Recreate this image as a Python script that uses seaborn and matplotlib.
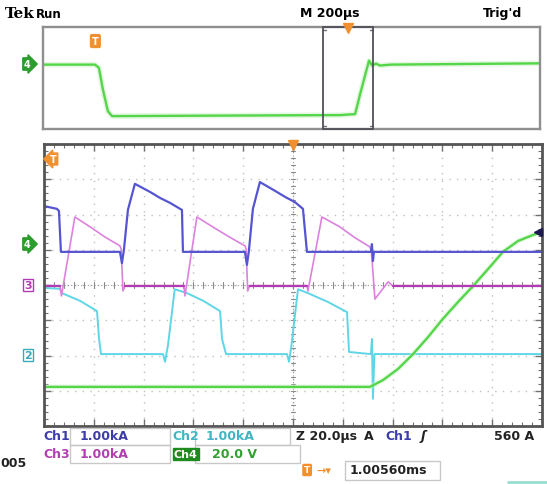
import numpy as np
import pandas as pd
import matplotlib
matplotlib.use("Agg")
import matplotlib.pyplot as plt
import seaborn as sns
from matplotlib.patches import Rectangle

W, H = 547, 485

# ---- zoomed window: time in µs (20 µs/div), level in screen divisions (0..8)
ch1_t = [0, 5.2, 6.0, 6.8, 30.5, 31.3, 32.1, 33.7, 36.5, 42.6, 46.6, 50.6, 55.4, 55.8,
         80.7, 81.5, 82.3, 83.9, 86.7, 92.8, 96.8, 100.8, 104.0, 105.6, 131.3, 131.7,
         132.1, 132.5, 200]
ch1_v = [6.24, 6.16, 6.10, 4.94, 4.94, 4.62, 5.00, 6.13, 6.87, 6.64, 6.47, 6.33, 6.13, 4.94,
         4.94, 4.57, 4.98, 6.16, 6.92, 6.67, 6.50, 6.35, 6.16, 4.94, 4.94, 5.16,
         4.68, 4.94, 4.94]

ch2_t = [0, 6.4, 7.2, 14.5, 21.3, 22.1, 22.9, 47.8, 48.6, 49.8, 52.5, 57.4, 64.0, 70.7,
         71.5, 73.1, 97.6, 98.4, 99.4, 102.0, 106.0, 114.0, 121.7, 122.5, 131.3, 131.7,
         132.1, 132.7, 200]
ch2_v = [3.92, 3.89, 3.77, 3.55, 3.26, 2.47, 2.04, 2.04, 1.82, 2.30, 3.88, 3.77, 3.55, 3.26,
         2.47, 2.04, 2.04, 1.82, 2.30, 3.88, 3.77, 3.52, 3.23, 2.10, 2.04, 2.47,
         0.77, 2.04, 2.04]

ch3_t = [0, 6.4, 7.0, 12.4, 18.5, 24.5, 30.5, 31.0, 31.7, 32.5, 56.2, 56.6, 61.4, 67.5,
         74.0, 80.7, 81.2, 81.8, 82.6, 105.6, 106.0, 111.6, 118.8, 124.9, 130.9, 131.5,
         132.9, 138.2, 140.0, 200]
ch3_v = [3.98, 3.98, 3.69, 5.93, 5.65, 5.36, 5.11, 5.02, 3.83, 3.98, 3.98, 3.69, 5.93, 5.66,
         5.38, 5.11, 5.02, 3.83, 3.98, 3.98, 3.83, 5.93, 5.65, 5.34, 5.08, 4.95,
         3.60, 4.09, 3.98, 3.98]
ch3_flat = [(0, 6.4), (32.5, 56.2), (82.6, 105.6), (140, 200)]

ch4_t = [0, 130.9, 136.1, 142.2, 148.2, 154.2, 160.2, 166.3, 172.3, 178.3, 184.3, 190.4,
         196.4, 199.2]
ch4_v = [1.11, 1.11, 1.30, 1.62, 2.04, 2.52, 3.04, 3.52, 3.97, 4.45, 4.94, 5.25,
         5.42, 5.48]

# ---- overview record: time in µs (200 µs/div), level in divisions (0..8)
ov_t = [0, 209, 225, 241, 261, 278, 700, 1195, 1256, 1276, 1300, 1312, 1324, 1340, 1356,
        1400, 2000]
ov_v = [5.05, 5.05, 4.80, 3.10, 1.40, 1.01, 1.05, 1.09, 1.17, 2.72, 4.50, 5.36, 4.98, 5.13,
        4.98, 5.05, 5.15]
zoom_center = 1227   # µs
zoom_width = 200     # µs

C1 = "#5555d2"
C2 = "#5fd6e6"
C3 = "#dc82de"
C3D = "#b23ab4"
C4 = "#55d64a"
ORANGE = "#f0902e"

sns.set_theme(style="white")
plt.rcParams["font.family"] = ["DejaVu Sans"]

fig = plt.figure(figsize=(W / 100, H / 100), dpi=100)
fig.patch.set_facecolor("white")


def fx(x):
    return x / W


def fy(y):
    return 1 - y / H


def add_ax(x0, y0, x1, y1):
    return fig.add_axes([fx(x0), fy(y1), (x1 - x0) / W, (y1 - y0) / H])


# ---------------- overview panel ----------------
ax0 = add_ax(43, 28, 540, 130)
ax0.set_xlim(0, 2000)
ax0.set_ylim(0, 8)
ov = pd.DataFrame({"t": ov_t, "v": ov_v})
sns.lineplot(data=ov, x="t", y="v", ax=ax0, color="#d2f2cc", lw=4, sort=False, alpha=0.6)
sns.lineplot(data=ov, x="t", y="v", ax=ax0, color=C4, lw=1.7, sort=False)
ax0.add_patch(Rectangle((zoom_center - zoom_width / 2, 0), zoom_width, 8,
                        fill=False, ec="#505058", lw=1.3, clip_on=False, zorder=5))
for yy in (0, 8):
    for xx in (zoom_center - zoom_width / 2, zoom_center + zoom_width / 2):
        ax0.plot([xx, xx + (12 if xx < zoom_center else -12)], [yy + (0.25 if yy == 0 else -0.25)] * 2,
                 color="#707078", lw=1, clip_on=False)
ax0.plot([zoom_center], [7.9], marker="v", ms=7, color=ORANGE, clip_on=False, zorder=6)
ax0.set_xticks([])
ax0.set_yticks([])
ax0.set_xlabel("")
ax0.set_ylabel("")
for s in ax0.spines.values():
    s.set_color("#8f8f8f")
    s.set_linewidth(1.7)

# ---------------- zoomed panel ----------------
ax = add_ax(44, 145, 542, 427)
ax.set_xlim(0, 200)
ax.set_ylim(0, 8)

# graticule
for gx in range(20, 200, 20):
    ax.axvline(gx, color="#c0c0c0", lw=1, ls=(0, (1, 4.5)), zorder=0)
for gy in range(1, 8):
    ax.axhline(gy, color="#c0c0c0", lw=1, ls=(0, (1, 4.5)), zorder=0)
ax.axvline(100, color="#9a9a9a", lw=0.8, ls=(0, (1, 2)), zorder=0)
ax.axhline(4, color="#9a9a9a", lw=0.8, ls=(0, (1, 2)), zorder=0)
for k in np.arange(4, 200, 4):
    ax.plot([k, k], [3.92, 4.08], color="#8a8a8a", lw=0.8, zorder=0)
for k in np.arange(0.2, 8, 0.2):
    ax.plot([99.2, 100.8], [k, k], color="#8a8a8a", lw=0.8, zorder=0)

df2 = pd.DataFrame({"t": ch2_t, "v": ch2_v})
df3 = pd.DataFrame({"t": ch3_t, "v": ch3_v})
df1 = pd.DataFrame({"t": ch1_t, "v": ch1_v})
df4 = pd.DataFrame({"t": ch4_t, "v": ch4_v})

sns.lineplot(data=df2, x="t", y="v", ax=ax, color=C2, lw=1.4, sort=False)
sns.lineplot(data=df4, x="t", y="v", ax=ax, color="#d2f2cc", lw=3.5, sort=False, alpha=0.5)
sns.lineplot(data=df4, x="t", y="v", ax=ax, color=C4, lw=1.7, sort=False)
sns.lineplot(data=df3, x="t", y="v", ax=ax, color=C3, lw=1.2, sort=False)
for a, b in ch3_flat:
    seg = pd.DataFrame({"t": [a, b], "v": [3.98, 3.98]})
    sns.lineplot(data=seg, x="t", y="v", ax=ax, color=C3D, lw=1.6, sort=False)
sns.lineplot(data=df1, x="t", y="v", ax=ax, color=C1, lw=1.6, sort=False)

ax.plot([198.2], [5.5], marker="<", ms=6, color="#1a1a50", clip_on=False, zorder=6)
ax.plot([100], [7.96], marker="v", ms=7, color=ORANGE, clip_on=False, zorder=6)

ax.set_xticks(np.arange(0, 201, 20))
ax.set_xticks(np.arange(0, 201, 4), minor=True)
ax.set_yticks(np.arange(0, 8.01, 1))
ax.set_yticks(np.arange(0, 8.01, 0.2), minor=True)
ax.tick_params(which="both", direction="in", top=True, right=True, bottom=True, left=True,
               labelbottom=False, labelleft=False, color="#707070")
ax.tick_params(which="major", length=5, width=1)
ax.tick_params(which="minor", length=3, width=0.8)
ax.set_xlabel("")
ax.set_ylabel("")
for s in ax.spines.values():
    s.set_color("#555555")
    s.set_linewidth(2)


# ---------------- screen annotations ----------------
def txt(x, y, s, color="black", size=9, weight="bold", **kw):
    fig.text(fx(x), fy(y), s, color=color, fontsize=size, fontweight=weight,
             va="center", **kw)


txt(5, 14, "Tek", size=11, family="DejaVu Serif")
txt(36, 14, "Run", size=8.5)
txt(300, 14, "M 200µs", size=9)
txt(483, 14, "Trig'd", size=9)

# channel ground markers
fig.text(fx(24), fy(65), "4", color="white", fontsize=7, fontweight="bold", va="center",
         bbox=dict(boxstyle="rarrow,pad=0.12", fc="#2c9c2c", ec="#2c9c2c"))
fig.text(fx(24), fy(245), "4", color="white", fontsize=7, fontweight="bold", va="center",
         bbox=dict(boxstyle="rarrow,pad=0.12", fc="#2c9c2c", ec="#2c9c2c"))
fig.text(fx(24), fy(286), "3", color=C3D, fontsize=8, fontweight="bold", va="center",
         bbox=dict(boxstyle="square,pad=0.1", fc="white", ec=C3D, lw=1))
fig.text(fx(24), fy(356), "2", color="#3aaabb", fontsize=8, fontweight="bold", va="center",
         bbox=dict(boxstyle="square,pad=0.1", fc="white", ec="#3aaabb", lw=1))
fig.text(fx(92), fy(42), "T", color="white", fontsize=7, fontweight="bold", va="center",
         bbox=dict(boxstyle="round,pad=0.15", fc=ORANGE, ec=ORANGE))
fig.text(fx(50), fy(160), "T", color="white", fontsize=7, fontweight="bold", va="center",
         bbox=dict(boxstyle="larrow,pad=0.1", fc=ORANGE, ec=ORANGE))

# readout boxes
for (x0, y0, x1, y1) in [(70, 429, 170, 446), (70, 446, 170, 464), (195, 429, 290, 446),
                         (195, 446, 300, 464), (345, 462, 440, 481)]:
    fig.patches.append(Rectangle((fx(x0), fy(y1)), (x1 - x0) / W, (y1 - y0) / H,
                                 transform=fig.transFigure, fill=False, ec="#c8c8c8",
                                 lw=1))

txt(43, 437, "Ch1", color="#3c3caa")
txt(80, 437, "1.00kA", color="#3c3caa")
txt(172, 437, "Ch2", color="#3fb5c5")
txt(206, 437, "1.00kA", color="#3fb5c5")
txt(296, 437, "Z 20.0µs", color="#222222")
txt(364, 437, "A", color="#222222")
txt(385, 437, "Ch1", color="#3c3caa")
txt(421, 437, "ʃ", color="#222222", style="italic")
txt(494, 437, "560 A", color="#222222")

txt(43, 455, "Ch3", color="#b040b0")
txt(80, 455, "1.00kA", color="#b040b0")
fig.text(fx(174), fy(455), "Ch4", color="white", fontsize=8, fontweight="bold", va="center",
         bbox=dict(boxstyle="square,pad=0.12", fc="#1f8a1f", ec="#1f8a1f"))
txt(212, 455, "20.0 V", color="#30a030")

txt(0, 464, "005", color="#222222")
fig.text(fx(304), fy(471), "T", color="white", fontsize=6.5, fontweight="bold", va="center",
         bbox=dict(boxstyle="round,pad=0.12", fc=ORANGE, ec=ORANGE))
txt(316, 471, "→▾", color=ORANGE, size=8)
txt(350, 471, "1.00560ms", color="#222222")

fig.lines.append(plt.Line2D([fx(508), fx(547)], [fy(483), fy(483)], transform=fig.transFigure,
                            color="#9adcd0", lw=2))

fig.savefig("out.png", dpi=100, facecolor="white")
